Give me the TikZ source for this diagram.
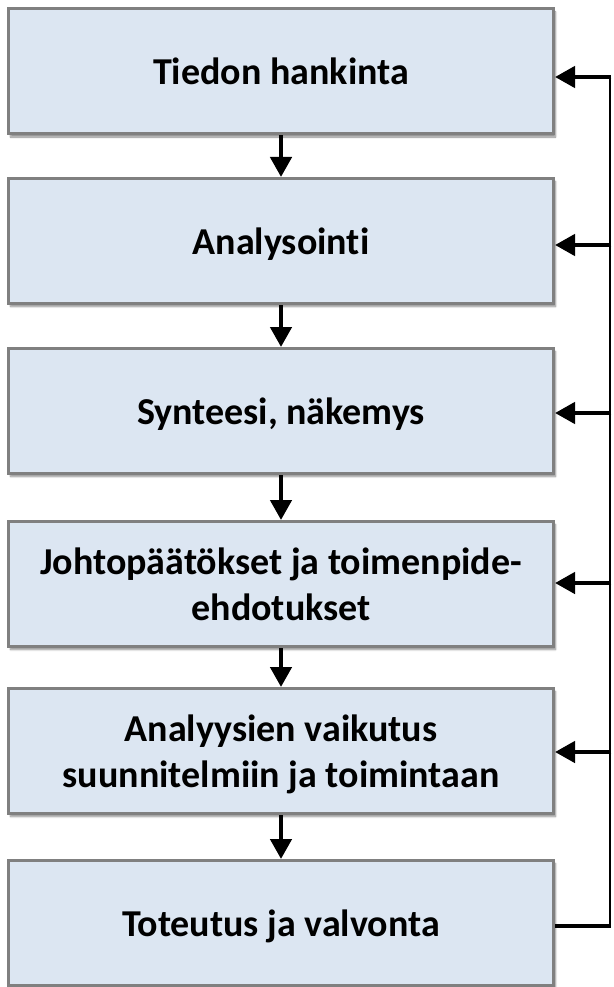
\documentclass[tikz,border=0pt]{standalone}
\usepackage{fontspec}
\setmainfont{Carlito}[Ligatures=NoCommon]
\usetikzlibrary{arrows.meta,shadows.blur}
\definecolor{boxfill}{RGB}{220,230,242}
\definecolor{boxline}{RGB}{128,128,128}
% stage label, set a little below the middle of its box
\newcommand{\stagetext}[1]{\raisebox{-4pt}[\height][\depth]{\begin{tabular}{@{}c@{}}#1\end{tabular}}}
\begin{document}
\begin{tikzpicture}[x=1pt,y=-1pt,
  stage/.style={draw=boxline, line width=3pt, fill=boxfill,
    minimum width=545pt, minimum height=125pt, align=center,
    font=\fontsize{38}{46}\selectfont\bfseries,
    blur shadow={shadow xshift=2pt, shadow yshift=-3pt, shadow blur steps=5, shadow opacity=45}},
  flow/.style={line width=4.5pt, -{Triangle[length=20pt,width=21pt]}},
  loopline/.style={line width=2.5pt},
  loopfoot/.style={line width=4.5pt}]
\useasboundingbox (0,0) rectangle (613,987);
% process stages
\node[stage] (t1) at (281,71.5) {\stagetext{Tiedon hankinta}};
\node[stage] (t2) at (281,241) {\stagetext{Analysointi}};
\node[stage] (t3) at (281,411) {\stagetext{Synteesi, näkemys}};
\node[stage] (t4) at (281,584) {\stagetext{Johtopäätökset ja toimenpide-\\ehdotukset}};
\node[stage] (t5) at (281,751) {\stagetext{Analyysien vaikutus\\suunnitelmiin ja toimintaan}};
\node[stage] (t6) at (281,923) {\stagetext{Toteutus ja valvonta}};
% downward flow
\draw[flow] (t1.south) -- (t2.north);
\draw[flow] (t2.south) -- (t3.north);
\draw[flow] (t3.south) -- (t4.north);
\draw[flow] (t4.south) -- (t5.north);
\draw[flow] (t5.south) -- (t6.north);
% feedback line on the right
\coordinate (c1) at (610,77);
\coordinate (c2) at (610,245);
\coordinate (c3) at (610,413);
\coordinate (c4) at (610,583);
\coordinate (c5) at (610,752);
\coordinate (c6) at (610,926);
\draw[loopfoot] (c6 -| t6.east) -- ([xshift=1.25pt]c6);
\draw[loopline] (c6) -- ([yshift=-1.25pt]c1);
\draw[flow] ([xshift=1.25pt]c1) -- (c1 -| t1.east);
\draw[flow] ([xshift=1.25pt]c2) -- (c2 -| t2.east);
\draw[flow] ([xshift=1.25pt]c3) -- (c3 -| t3.east);
\draw[flow] ([xshift=1.25pt]c4) -- (c4 -| t4.east);
\draw[flow] ([xshift=1.25pt]c5) -- (c5 -| t5.east);
\end{tikzpicture}
\end{document}
